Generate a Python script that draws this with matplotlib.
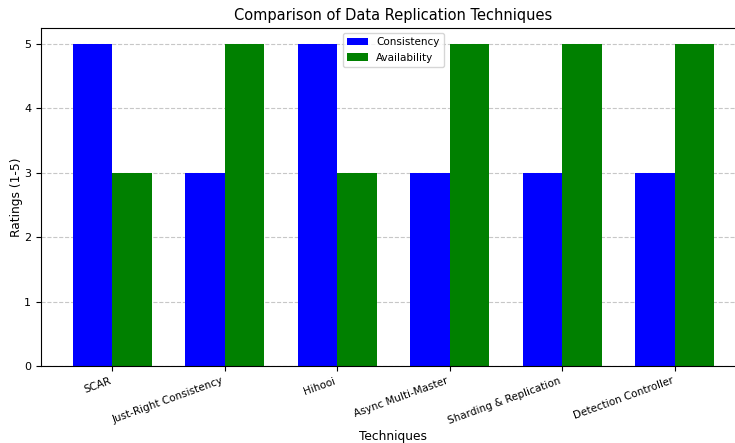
import numpy as np
import matplotlib
matplotlib.use('Agg')
import matplotlib.pyplot as plt

techniques = ['SCAR', 'Just-Right Consistency', 'Hihooi', 'Async Multi-Master',
              'Sharding & Replication', 'Detection Controller']
consistency = [5, 3, 5, 3, 3, 3]
availability = [3, 5, 3, 5, 5, 5]

x = np.arange(len(techniques))
w = 0.35

fig = plt.figure(figsize=(7.35, 4.43), dpi=100)
ax = fig.add_axes([41 / 735, 77 / 443, 705 / 735, 338 / 443])

ax.bar(x - w / 2, consistency, w, color='blue', label='Consistency')
ax.bar(x + w / 2, availability, w, color='green', label='Availability')

ax.set_xticks(x)
ax.set_xticklabels(techniques, rotation=20, ha='right', fontsize=7.5)
ax.tick_params(axis='y', labelsize=8)
ax.set_ylim(0, 5.25)
ax.set_xlim(-0.635, 5.635)
ax.set_xlabel('Techniques', fontsize=8.8, labelpad=3)
ax.set_ylabel('Ratings (1-5)', fontsize=8.8, labelpad=1)
ax.set_title('Comparison of Data Replication Techniques', fontsize=10.5, pad=6)
ax.yaxis.grid(True, linestyle='--', alpha=0.7)
ax.set_axisbelow(True)
ax.legend(loc='upper center', fontsize=7.5)

fig.savefig('out.png', dpi=100, facecolor='white')
